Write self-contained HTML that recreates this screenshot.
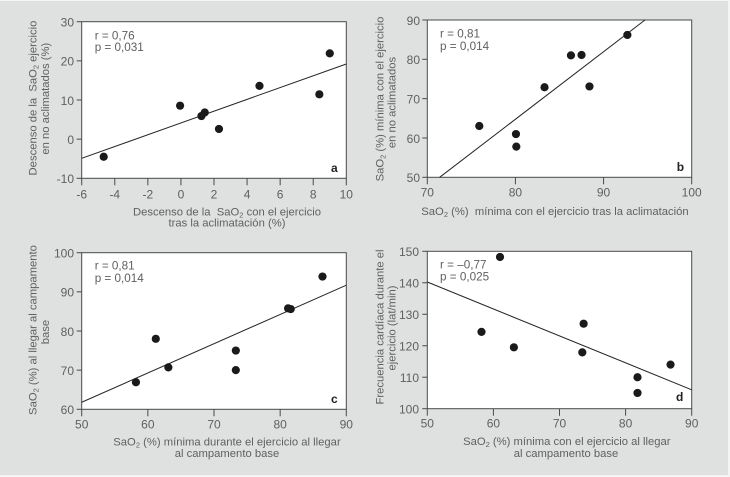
<!DOCTYPE html>
<html lang="es">
<head>
<meta charset="utf-8">
<title>SaO2 correlaciones</title>
<style>
html,body{margin:0;padding:0;background:#f4f4f4;}
svg{display:block;width:730px;height:477px;font-family:"Liberation Sans",sans-serif;}
text{fill:#606060;font-size:12px;white-space:pre;}
.tick{font-size:12px;}
.title{font-size:11.25px;}
.sub{font-size:7.5px;}
.letter{font-weight:bold;fill:#222;font-size:12px;}
.note{font-size:11.7px;}
</style>
</head>
<body>
<svg id="chart" width="730" height="477" viewBox="0 0 730 477" xmlns="http://www.w3.org/2000/svg">
<rect x="0" y="1" width="728" height="474" fill="#dfe0e0"/>

<g id="panel-a"></g>
<g id="panel-b"></g>
<g id="panel-c"></g>
<g id="panel-d"></g>

<g>
<text class="title" x="227" y="215.7" text-anchor="middle">Descenso de la  SaO<tspan class="sub" dy="2">2</tspan><tspan dy="-2"> con el ejercicio</tspan></text>
<text class="title" x="227" y="226.7" text-anchor="middle">tras la aclimatación (%)</text>
<text class="title" transform="translate(36.7,98) rotate(-90)" text-anchor="middle">Descenso de la  SaO<tspan class="sub" dy="2">2</tspan><tspan dy="-2"> ejercicio</tspan></text>
<text class="title" transform="translate(49,98.7) rotate(-90)" text-anchor="middle">en no aclimatados (%)</text>
<text class="note" x="94.7" y="39.3">r = 0,76</text>
<text class="note" x="94.7" y="51">p = 0,031</text>
<text class="letter" x="331" y="172">a</text>
</g>

<g>
<text class="title" x="555" y="215" text-anchor="middle">SaO<tspan class="sub" dy="2">2</tspan><tspan dy="-2"> (%)  mínima con el ejercicio tras la aclimatación</tspan></text>
<text class="title" transform="translate(383.3,99) rotate(-90)" text-anchor="middle">SaO<tspan class="sub" dy="2">2</tspan><tspan dy="-2"> (%) mínima con el ejercicio</tspan></text>
<text class="title" transform="translate(395.7,102.5) rotate(-90)" text-anchor="middle">en no aclimatados</text>
<text class="note" x="440" y="37.7">r = 0,81</text>
<text class="note" x="440" y="50">p = 0,014</text>
<text class="letter" x="676.7" y="171">b</text>
</g>

<g>
<text class="title" x="227" y="445.3" text-anchor="middle">SaO<tspan class="sub" dy="2">2</tspan><tspan dy="-2"> (%) mínima durante el ejercicio al llegar</tspan></text>
<text class="title" x="227" y="457" text-anchor="middle">al campamento base</text>
<text class="title" transform="translate(36.7,330) rotate(-90)" text-anchor="middle">SaO<tspan class="sub" dy="2">2</tspan><tspan dy="-2"> (%) al llegar al campamento</tspan></text>
<text class="title" transform="translate(49,332) rotate(-90)" text-anchor="middle">base</text>
<text class="note" x="94.7" y="269.7">r = 0,81</text>
<text class="note" x="94.7" y="282">p = 0,014</text>
<text class="letter" x="331" y="403">c</text>
</g>

<g>
<text class="title" x="566.8" y="445" text-anchor="middle">SaO<tspan class="sub" dy="2">2</tspan><tspan dy="-2"> (%) mínima con el ejercicio al llegar</tspan></text>
<text class="title" x="566" y="457" text-anchor="middle">al campamento base</text>
<text class="title" transform="translate(383.3,327) rotate(-90)" text-anchor="middle">Frecuencia cardíaca durante el</text>
<text class="title" transform="translate(395.7,328) rotate(-90)" text-anchor="middle">ejercicio (lat/min)</text>
<text class="note" x="440" y="268.7">r = –0,77</text>
<text class="note" x="440" y="280.3">p = 0,025</text>
<text class="letter" x="676" y="401">d</text>
</g>
</svg>

<script>
// Panel a
const aPointsX = [-4.67, -0.05, 1.24, 1.44, 2.3, 4.75, 8.37, 9.0];
const aPointsY = [-4.5, 8.55, 5.9, 6.8, 2.6, 13.6, 11.45, 21.9];
const aTrendX = [-6, 10];
const aTrendY = [-4.9, 19.2];
const aTicksX = [-6, -4, -2, 0, 2, 4, 6, 8, 10];
const aTicksY = [-10, 0, 10, 20, 30];

// Panel b
const bPointsX = [75.9, 80.06, 80.1, 83.3, 86.3, 87.5, 88.4, 92.7];
const bPointsY = [63.05, 61.0, 57.8, 72.9, 81.0, 81.1, 73.1, 86.2];
const bTrendX = [71.4, 94.7];
const bTrendY = [50, 90];
const bTicksX = [70, 80, 90, 100];
const bTicksY = [50, 60, 70, 80, 90];

// Panel c
const cPointsX = [58.2, 61.2, 63.1, 73.3, 73.3, 81.2, 81.6, 86.4];
const cPointsY = [66.9, 78.0, 70.7, 75, 70, 85.8, 85.6, 93.9];
const cTrendX = [50, 90];
const cTrendY = [61.8, 91.7];
const cTicksX = [50, 60, 70, 80, 90];
const cTicksY = [60, 70, 80, 90, 100];

// Panel d
const dPointsX = [58.2, 61, 63.1, 73.45, 73.65, 81.8, 81.8, 86.8];
const dPointsY = [124.4, 148.2, 119.5, 117.9, 127, 110, 105, 114];
const dTrendX = [50, 90];
const dTrendY = [140.25, 106];
const dTicksX = [50, 60, 70, 80, 90];
const dTicksY = [100, 110, 120, 130, 140, 150];

const NS = 'http://www.w3.org/2000/svg';

function make(parent, tag, attrs) {
  const el = document.createElementNS(NS, tag);
  for (const k in attrs) el.setAttribute(k, attrs[k]);
  parent.appendChild(el);
  return el;
}

function drawPanel(id, box, xs, ys, trendX, trendY, ticksX, ticksY, labelY, labelRight) {
  const parent = document.getElementById(id);
  const xMin = ticksX[0], xMax = ticksX[ticksX.length - 1];
  const yMin = ticksY[0], yMax = ticksY[ticksY.length - 1];
  const sx = v => box.left + (v - xMin) / (xMax - xMin) * (box.right - box.left);
  const sy = v => box.bottom - (v - yMin) / (yMax - yMin) * (box.bottom - box.top);

  const plot = make(parent, 'rect', {x: box.left, y: box.top, width: box.right - box.left, height: box.bottom - box.top, fill: '#ffffff', stroke: '#4a4a4a', 'stroke-width': 1});
  
  

  ticksX.forEach(function (t) {
    const tick = make(parent, 'line', {x1: sx(t), x2: sx(t), y1: box.bottom, y2: box.bottom + 7, stroke: '#4a4a4a', 'stroke-width': 1});
    
    
    const label = make(parent, 'text', {x: sx(t), y: labelY, 'text-anchor': 'middle', class: 'tick'});
    label.textContent = String(t);
    
    
  });

  ticksY.forEach(function (t) {
    const tick = make(parent, 'line', {x1: box.left - 5, x2: box.left, y1: sy(t), y2: sy(t), stroke: '#4a4a4a', 'stroke-width': 1});
    
    
    const label = make(parent, 'text', {x: labelRight, y: sy(t) + 4.8, 'text-anchor': 'end', class: 'tick'});
    label.textContent = String(t);
    
    
  });

  const trend = make(parent, 'line', {x1: sx(trendX[0]), y1: sy(trendY[0]), x2: sx(trendX[1]), y2: sy(trendY[1]), stroke: '#262626', 'stroke-width': 1});
  
  

  xs.forEach(function (x, i) {
    const dot = make(parent, 'circle', {cx: sx(x), cy: sy(ys[i]), r: 4.1, fill: '#1a1a1a'});
    
    
  });
}

drawPanel('panel-a', {left: 81.7, right: 346.3, top: 21.7, bottom: 178.3}, aPointsX, aPointsY, aTrendX, aTrendY, aTicksX, aTicksY, 198.3, 74);
drawPanel('panel-b', {left: 427.3, right: 691.7, top: 20, bottom: 177.3}, bPointsX, bPointsY, bTrendX, bTrendY, bTicksX, bTicksY, 196.7, 420);
drawPanel('panel-c', {left: 81.7, right: 346.3, top: 252.7, bottom: 409.3}, cPointsX, cPointsY, cTrendX, cTrendY, cTicksX, cTicksY, 428.7, 74);
drawPanel('panel-d', {left: 427.3, right: 691.7, top: 251.3, bottom: 408.7}, dPointsX, dPointsY, dTrendX, dTrendY, dTicksX, dTicksY, 427.7, 419);
</script>
</body>
</html>
